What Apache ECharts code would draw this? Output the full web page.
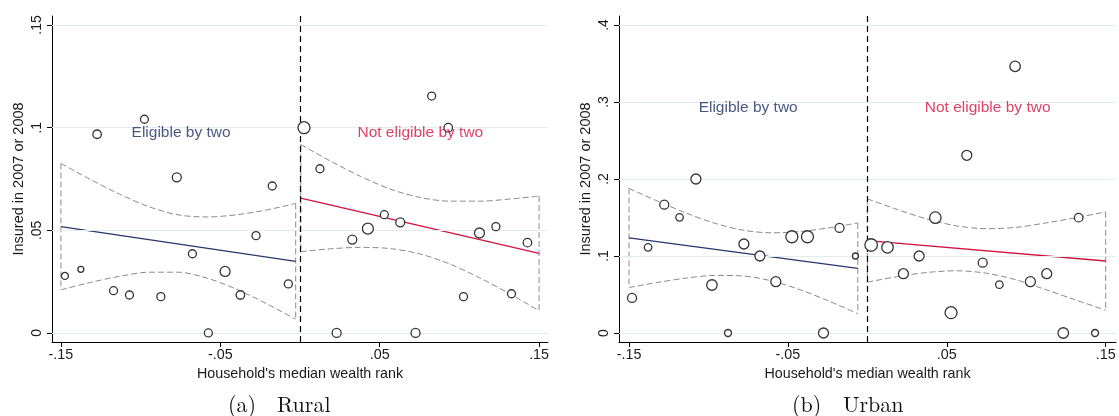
<!DOCTYPE html>
<html><head><meta charset="utf-8">
<script src="https://cdn.jsdelivr.net/npm/echarts@6/dist/echarts.min.js"></script>
<style>html,body{margin:0;padding:0;background:#fff}#c{width:1119px;height:416px}</style>
</head><body><div id="c"></div>
<script>
// ---- tick labels ----
const xTicks = [-0.15, -0.05, 0.05, 0.15];
const xTickLabels = ['-.15', '-.05', '.05', '.15'];
const ruralYTicks = [0, 0.05, 0.1, 0.15];
const ruralYTickLabels = ['0', '.05', '.1', '.15'];
const urbanYTicks = [0, 0.1, 0.2, 0.3, 0.4];
const urbanYTickLabels = ['0', '.1', '.2', '.3', '.4'];

// ---- Rural (a) binned means ----
const ruralX = [-0.1475,-0.1375,-0.1273,-0.1170,-0.1070,-0.0976,-0.0873,-0.0773,-0.0675,-0.0575,-0.0470,-0.0374,-0.0276,-0.0174,-0.0073,
                 0.0025, 0.0125, 0.0230, 0.0328, 0.0426, 0.0529, 0.0629, 0.0725, 0.0826, 0.0930, 0.1026, 0.1126, 0.1229, 0.1327, 0.1427];
const ruralY = [0.0278,0.0310,0.0968,0.0206,0.0185,0.1041,0.0177,0.0758,0.0386,0.0000,0.0300,0.0185,0.0474,0.0716,0.0239,
                0.1000,0.0800,0.0000,0.0455,0.0508,0.0576,0.0539,0.0000,0.1154,0.1000,0.0177,0.0487,0.0518,0.0191,0.0440];
const ruralW = [7,6,8.5,8,8,8,8,9,8,8,10,8.5,8,8,8,
                12,8,9,9,11,8,9,9,8,8.5,8,10,8,8,8.5];
// linear fits and CI bounds (rural)
const ruralFitLeft = [[-0.15,0.0518],[-0.0027,0.0349]];
const ruralFitRight = [[0.0005,0.0657],[0.15,0.0388]];
const ruralUpperLeft = [[-0.15,0.0826],[-0.1316,0.0748],[-0.1132,0.0676],[-0.0948,0.0615],[-0.0763,0.0575],[-0.0579,0.0565],[-0.0395,0.0576],[-0.0211,0.0599],[-0.0027,0.0631]];
const ruralLowerLeft = [[-0.15,0.0210],[-0.1316,0.0246],[-0.1132,0.0276],[-0.0948,0.0296],[-0.0763,0.0296],[-0.0579,0.0266],[-0.0395,0.0212],[-0.0211,0.0143],[-0.0027,0.0067]];
const ruralUpperRight = [[0.0005,0.0918],[0.0192,0.0837],[0.0379,0.0763],[0.0566,0.0701],[0.0753,0.0660],[0.0939,0.0642],[0.1126,0.0642],[0.1313,0.0652],[0.15,0.0667]];
const ruralLowerRight = [[0.0005,0.0396],[0.0192,0.0410],[0.0379,0.0417],[0.0566,0.0411],[0.0753,0.0385],[0.0939,0.0336],[0.1126,0.0269],[0.1313,0.0192],[0.15,0.0109]];

// ---- Urban (b) binned means ----
const urbanX = [-0.1481,-0.1380,-0.1278,-0.1182,-0.1079,-0.0978,-0.0877,-0.0777,-0.0676,-0.0576,-0.0475,-0.0377,-0.0276,-0.0175,-0.0075,
                 0.0024, 0.0127, 0.0227, 0.0326, 0.0428, 0.0527, 0.0626, 0.0726, 0.0831, 0.0930, 0.1026, 0.1129, 0.1233, 0.1330, 0.1433];
const urbanY = [0.0455,0.1113,0.1666,0.1502,0.2000,0.0623,0.0000,0.1156,0.1000,0.0667,0.1250,0.1250,0.0000,0.1364,0.1000,
                0.1143,0.1113,0.0770,0.1000,0.1498,0.0264,0.2308,0.0913,0.0628,0.3463,0.0667,0.0770,0.0000,0.1498,0.0000];
const urbanW = [9,7.5,9,7.5,10,10.5,7,10,10,10,12,12,10,9,6,
                12.5,11.5,10,10,11.5,12,10,9,7.5,10.5,10,10,10.5,8.5,7];
const urbanFitLeft = [[-0.15,0.1234],[-0.006,0.0840]];
const urbanFitRight = [[0.0,0.1200],[0.15,0.0935]];
const urbanUpperLeft = [[-0.15,0.1878],[-0.132,0.1712],[-0.114,0.1558],[-0.096,0.1425],[-0.078,0.1334],[-0.06,0.1301],[-0.042,0.1318],[-0.024,0.1366],[-0.006,0.1429]];
const urbanLowerLeft = [[-0.15,0.0590],[-0.132,0.0657],[-0.114,0.0713],[-0.096,0.0748],[-0.078,0.0740],[-0.06,0.0675],[-0.042,0.0559],[-0.024,0.0413],[-0.006,0.0251]];
const urbanUpperRight = [[0.0,0.1743],[0.01875,0.1604],[0.0375,0.1481],[0.05625,0.1391],[0.075,0.1355],[0.09375,0.1372],[0.1125,0.1430],[0.13125,0.1497],[0.15,0.1573]];
const urbanLowerRight = [[0.0,0.0660],[0.01875,0.0732],[0.0375,0.0786],[0.05625,0.0808],[0.075,0.0776],[0.09375,0.0690],[0.1125,0.0562],[0.13125,0.0428],[0.15,0.0297]];

// ---- annotations ----
const groupLabels = ['Eligible by two', 'Not eligible by two'];
const ruralLabelPos = [[-0.0746,0.0974],[0.0755,0.0974]];
const urbanLabelPos = [[-0.0750,0.2926],[0.0757,0.2920]];
const captions = [['(a)','Rural'],['(b)','Urban']];

const F = '"Liberation Sans", Arial, Helvetica, sans-serif';
const NAVY = '#1f2d62';
const RED = '#d4123f';
const BAND = '#8a8a8a';

function lab(ticks, labels, v) {
  for (let i = 0; i < ticks.length; i++) if (Math.abs(ticks[i] - v) < 1e-9) return labels[i];
  return '';
}

function xAxisCfg(gi, min, max) {
  return {
    type: 'value', gridIndex: gi, min: min, max: max,
    name: "Household's median wealth rank", nameLocation: 'middle', nameGap: 23,
    nameTextStyle: {fontFamily: F, fontSize: 14.3, color: '#1a1a1a'},
    axisLine: {onZero: false, lineStyle: {color: '#000', width: 1}},
    axisTick: {show: true, inside: false, length: 5, customValues: xTicks, lineStyle: {color: '#000', width: 1}},
    axisLabel: {customValues: xTicks, formatter: v => lab(xTicks, xTickLabels, v), margin: 6,
                fontFamily: F, fontSize: 14.3, color: '#1a1a1a', showMinLabel: true, showMaxLabel: true},
    splitLine: {show: false}
  };
}
function yAxisCfg(gi, min, max, ticks, labels) {
  return {
    type: 'value', gridIndex: gi, min: min, max: max,
    name: 'Insured in 2007 or 2008', nameLocation: 'middle', nameGap: 26, nameRotate: 90,
    nameTextStyle: {fontFamily: F, fontSize: 14.5, color: '#1a1a1a'},
    axisLine: {onZero: false, lineStyle: {color: '#000', width: 1}},
    axisTick: {show: true, inside: false, length: 5, customValues: ticks, lineStyle: {color: '#000', width: 1}},
    axisLabel: {customValues: ticks, formatter: v => lab(ticks, labels, v), rotate: 90, margin: 8,
                fontFamily: F, fontSize: 14, color: '#1a1a1a', showMinLabel: true, showMaxLabel: true},
    splitLine: {show: false}
  };
}

function panelSeries(gi, xs, ys, ws, fitL, fitR, upL, loL, upR, loR, yTicks, labelPos) {
  const out = [];
  const dashBand = {color: BAND, width: 1, type: [6, 3]};
  const ml = yTicks.map(v => ({yAxis: v, lineStyle: {color: '#e3edf0', width: 1, type: 'solid'}}));
  ml.push({xAxis: 0, lineStyle: {color: '#000', width: 1.2, type: [6, 4]}});
  out.push({type: 'line', xAxisIndex: gi, yAxisIndex: gi, data: [], z: 1, silent: true,
    markLine: {symbol: ['none', 'none'], silent: true, label: {show: false}, animation: false, data: ml}});
  [upL, loL, upR, loR].forEach(d => out.push({type: 'line', xAxisIndex: gi, yAxisIndex: gi, data: d,
      smooth: 0.3, showSymbol: false, symbol: 'none', lineStyle: dashBand, z: 2, silent: true}));
  [[upL[0], loL[0]], [upL[upL.length-1], loL[loL.length-1]], [upR[0], loR[0]], [upR[upR.length-1], loR[loR.length-1]]]
    .forEach(d => out.push({type: 'line', xAxisIndex: gi, yAxisIndex: gi, data: d, showSymbol: false, symbol: 'none',
      lineStyle: dashBand, z: 2, silent: true}));
  out.push({type: 'line', xAxisIndex: gi, yAxisIndex: gi, data: fitL, showSymbol: false, symbol: 'none',
    lineStyle: {color: '#27376e', width: 1.3}, z: 3, silent: true});
  out.push({type: 'line', xAxisIndex: gi, yAxisIndex: gi, data: fitR, showSymbol: false, symbol: 'none',
    lineStyle: {color: RED, width: 1.3}, z: 3, silent: true});
  out.push({type: 'scatter', xAxisIndex: gi, yAxisIndex: gi,
    data: xs.map((x, i) => [x, ys[i], ws[i]]),
    symbol: 'circle', symbolSize: d => d[2],
    itemStyle: {color: '#fff', borderColor: '#353535', borderWidth: 1.3, opacity: 1}, z: 5, silent: true});
  out.push({type: 'scatter', xAxisIndex: gi, yAxisIndex: gi, symbolSize: 0, z: 6, silent: true,
    data: labelPos.map((p, i) => ({value: p, name: groupLabels[i],
      label: {show: true, position: 'inside', formatter: groupLabels[i],
              fontFamily: F, fontSize: 15.5, color: i === 0 ? NAVY : RED}}))});
  return out;
}

const chart = echarts.init(document.getElementById('c'), null, {renderer: 'canvas'});
const capFont = '22px "Latin Modern Roman", "Liberation Serif", "DejaVu Serif", serif';
chart.setOption({
  animation: false,
  backgroundColor: '#fff',
  grid: [
    {left: 52, top: 16, width: 496, height: 326},
    {left: 619, top: 16, width: 497, height: 326}
  ],
  xAxis: [xAxisCfg(0, -0.1556, 0.1556), xAxisCfg(1, -0.1563, 0.1565)],
  yAxis: [yAxisCfg(0, -0.0044, 0.1544, ruralYTicks, ruralYTickLabels),
          yAxisCfg(1, -0.0117, 0.4117, urbanYTicks, urbanYTickLabels)],
  series: [].concat(
    panelSeries(0, ruralX, ruralY, ruralW, ruralFitLeft, ruralFitRight, ruralUpperLeft, ruralLowerLeft, ruralUpperRight, ruralLowerRight, ruralYTicks, ruralLabelPos),
    panelSeries(1, urbanX, urbanY, urbanW, urbanFitLeft, urbanFitRight, urbanUpperLeft, urbanLowerLeft, urbanUpperRight, urbanLowerRight, urbanYTicks, urbanLabelPos)
  ),
  graphic: [
    {type: 'text', left: 228, top: 394, style: {text: captions[0][0], font: capFont, fill: '#111'}},
    {type: 'text', left: 277, top: 394, style: {text: captions[0][1], font: capFont, fill: '#111'}},
    {type: 'text', left: 792, top: 394, style: {text: captions[1][0], font: capFont, fill: '#111'}},
    {type: 'text', left: 843, top: 394, style: {text: captions[1][1], font: capFont, fill: '#111'}}
  ]
});
</script>
</body></html>
